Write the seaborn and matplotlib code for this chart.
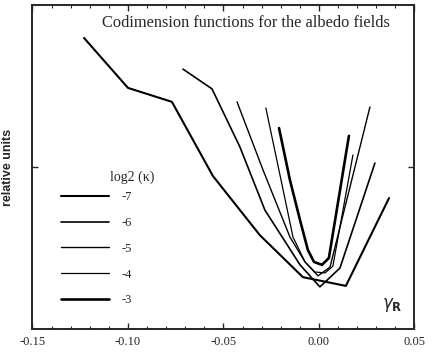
import numpy as np
import pandas as pd
import matplotlib
matplotlib.use("Agg")
import matplotlib.pyplot as plt
import matplotlib.ticker as mticker
import seaborn as sns

# Codimension curves (gamma_R vs relative units)
x_m7 = [-0.123, -0.100, -0.077, -0.0555, -0.031, -0.0084, 0.0141, 0.0367]
y_m7 = [0.898, 0.744, 0.701, 0.472, 0.290, 0.160, 0.133, 0.404]

x_m6 = [-0.0712, -0.056, -0.0414, -0.0283, -0.0099, 0.0005, 0.011, 0.0293]
y_m6 = [0.802, 0.741, 0.562, 0.367, 0.198, 0.130, 0.188, 0.512]

x_m5 = [-0.0429, -0.0293, -0.0152, -0.0073, -0.0005, 0.0058, 0.0267]
y_m5 = [0.701, 0.491, 0.284, 0.207, 0.164, 0.191, 0.685]

x_m4 = [-0.0278, -0.0204, -0.0136, -0.0073, -0.0021, 0.0032, 0.0073, 0.0178]
y_m4 = [0.682, 0.475, 0.284, 0.207, 0.176, 0.173, 0.194, 0.537]

x_m3 = [-0.0209, -0.0152, -0.0099, -0.0058, -0.0026, 0.0016, 0.0052, 0.0157]
y_m3 = [0.620, 0.460, 0.336, 0.244, 0.207, 0.198, 0.219, 0.596]

labels = ["-7", "-6", "-5", "-4", "-3"]
series_x = [x_m7, x_m6, x_m5, x_m4, x_m3]
series_y = [y_m7, y_m6, y_m5, y_m4, y_m3]
widths = [1.5, 1.2, 1.0, 0.9, 1.9]

sns.set_style("ticks")
plt.rcParams["font.family"] = ["Liberation Serif", "DejaVu Serif"]

fig = plt.figure(figsize=(4.35, 3.52), dpi=100)
ax = fig.add_axes([0.0747, 0.0653, 0.878, 0.9207])

for xs, ys, lab, lw in zip(series_x, series_y, labels, widths):
    df = pd.DataFrame({"gamma": xs, "value": ys})
    sns.lineplot(data=df, x="gamma", y="value", ax=ax, color="black",
                 linewidth=lw, label=lab, sort=False, estimator=None)

ax.set_xlim(-0.15, 0.05)
ax.set_ylim(0, 1)
ax.xaxis.set_major_locator(mticker.MultipleLocator(0.05))
ax.xaxis.set_minor_locator(mticker.MultipleLocator(0.01))
ax.xaxis.set_major_formatter(mticker.FormatStrFormatter("%.2f"))
ax.set_yticks([0.5])
ax.set_yticklabels([])
ax.tick_params(which="both", direction="in", top=True, right=True,
               labelsize=9, pad=5)
ax.tick_params(which="major", length=4, width=1.0)
ax.tick_params(which="minor", length=2, width=0.8)
for sp in ax.spines.values():
    sp.set_linewidth(1.4)

ax.set_xlabel("")
ax.set_ylabel("relative units", fontsize=9, fontweight="bold",
              family=["Liberation Sans", "DejaVu Sans"], labelpad=8)

ax.text(0.182, 0.944, "Codimension functions for the albedo fields",
        transform=ax.transAxes, ha="left", va="center", fontsize=11.8)
ax.text(0.203, 0.469, "log2 (\u03ba)", transform=ax.transAxes,
        ha="left", va="center", fontsize=10)
ax.text(0.915, 0.075, r"$\gamma_{\mathbf{R}}$", transform=ax.transAxes,
        ha="left", va="center", fontsize=12)

ax.legend(loc="upper left", bbox_to_anchor=(0.075, 0.425), frameon=False,
          handlelength=3.8, handletextpad=1.0, labelspacing=1.1,
          fontsize=9, borderpad=0, borderaxespad=0)

fig.savefig("out.png", dpi=100)
